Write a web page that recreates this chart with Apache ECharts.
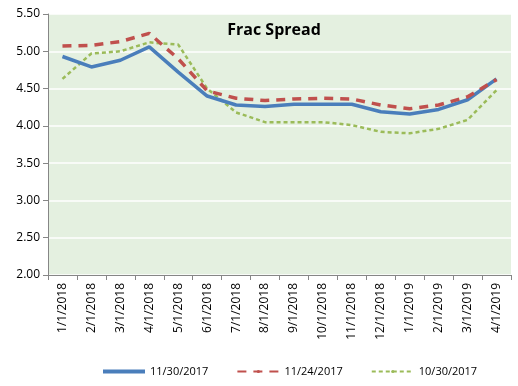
<!DOCTYPE html>
<html><head><meta charset="utf-8">
<script src="https://cdn.jsdelivr.net/npm/echarts@6/dist/echarts.min.js"></script>
<style>html,body{margin:0;padding:0;background:#fff}#c{width:518px;height:386px}</style>
</head><body><div id="c"></div>
<script>
const categories = ['1/1/2018','2/1/2018','3/1/2018','4/1/2018','5/1/2018','6/1/2018','7/1/2018','8/1/2018','9/1/2018','10/1/2018','11/1/2018','12/1/2018','1/1/2019','2/1/2019','3/1/2019','4/1/2019'];
const s1130 = [4.93,4.79,4.88,5.06,4.72,4.40,4.28,4.26,4.29,4.29,4.29,4.19,4.16,4.22,4.35,4.63];
const s1124 = [5.07,5.08,5.13,5.24,4.90,4.47,4.37,4.34,4.36,4.37,4.36,4.28,4.23,4.28,4.39,4.62];
const s1030 = [4.63,4.97,5.00,5.12,5.09,4.50,4.18,4.05,4.05,4.05,4.01,3.92,3.90,3.96,4.08,4.48];
const yTicks = {min:2.0, max:5.5, interval:0.5};
const font = 'Open Sans';
const chart = echarts.init(document.getElementById('c'));
chart.setOption({
  animation:false,
  title:{text:'Frac Spread', left:269, top:17, textAlign:'center', textStyle:{fontFamily:font, fontSize:16, fontWeight:'bold', color:'#000'}},
  grid:{left:48, right:7, top:14, bottom:111, show:true, backgroundColor:'#e4f0e0', borderWidth:0},
  legend:{top:361, left:98, itemWidth:42, itemHeight:4, itemGap:28, textStyle:{fontFamily:font, fontSize:11, color:'#000'},
    data:[{name:'11/30/2017',icon:'rect'},{name:'11/24/2017'},{name:'10/30/2017'}]},
  xAxis:{type:'category', data:categories, boundaryGap:true,
    axisLine:{lineStyle:{color:'#868686'}}, axisTick:{show:true, alignWithLabel:false, length:5, lineStyle:{color:'#868686'}},
    axisLabel:{rotate:90, interval:0, fontFamily:font, fontSize:12, color:'#000', margin:8}},
  yAxis:{type:'value', min:yTicks.min, max:yTicks.max, interval:yTicks.interval,
    axisLine:{show:true, lineStyle:{color:'#868686'}}, axisTick:{show:true, length:5, lineStyle:{color:'#868686'}},
    axisLabel:{formatter:v=>v.toFixed(2), fontFamily:font, fontSize:12, color:'#000', margin:8},
    splitLine:{lineStyle:{color:'#ffffff', width:1.5}}},
  series:[
    {name:'11/30/2017', type:'line', data:s1130, symbol:'none', z:3, lineStyle:{color:'#4a7ebb', width:3.5}, itemStyle:{color:'#4a7ebb'}},
    {name:'11/24/2017', type:'line', data:s1124, symbol:'none', z:4, lineStyle:{color:'#c0504d', width:3.5, type:[9,7]}, itemStyle:{color:'#c0504d'}},
    {name:'10/30/2017', type:'line', data:s1030, symbol:'none', z:2, lineStyle:{color:'#9bbb59', width:2.5, type:[4,3]}, itemStyle:{color:'#9bbb59'}}
  ]
});
</script></body></html>
